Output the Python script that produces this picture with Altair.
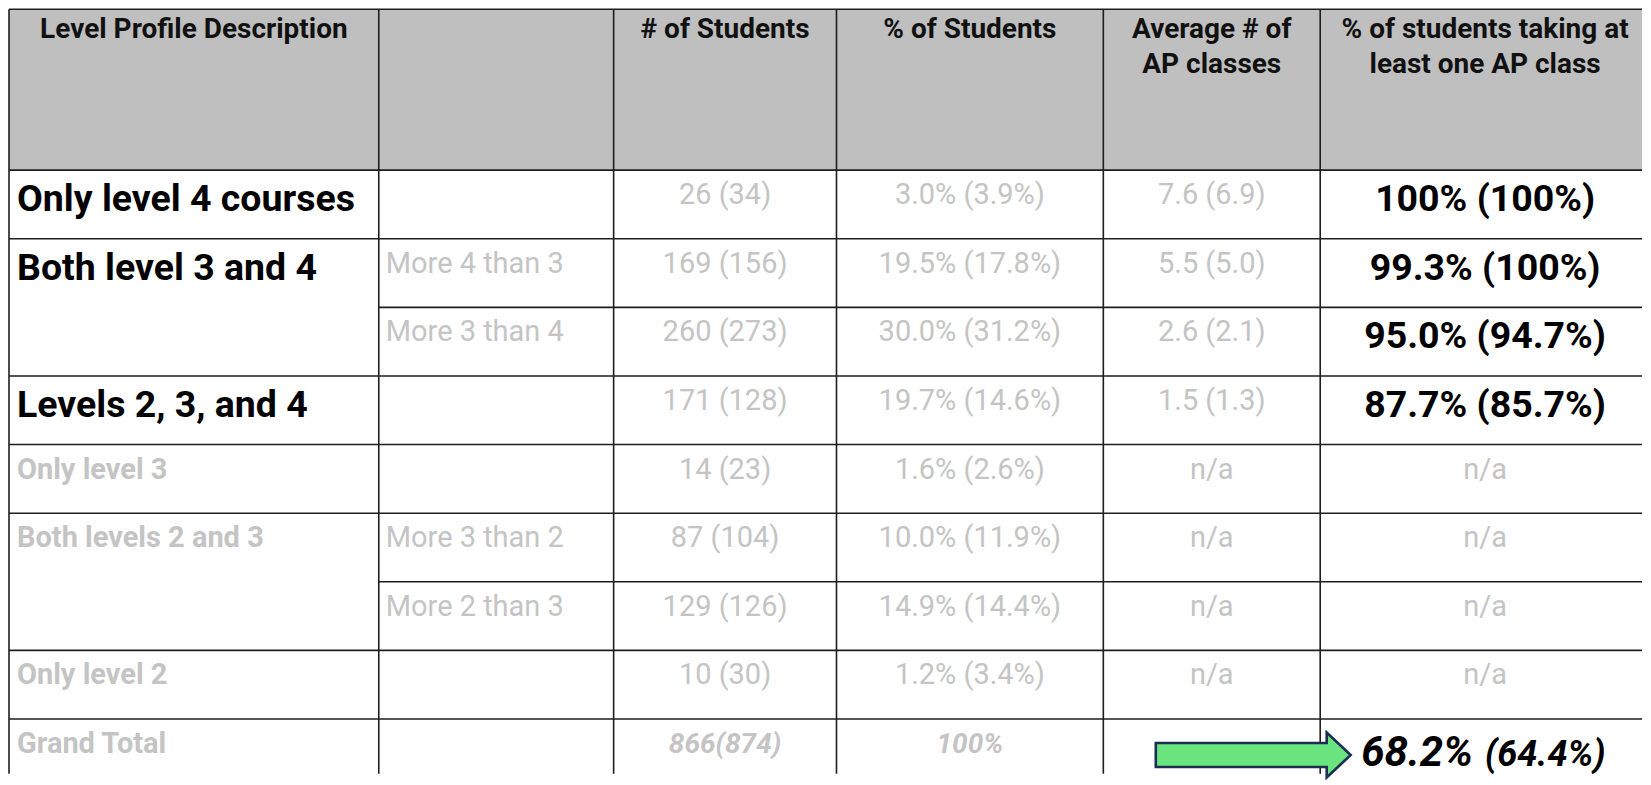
import altair as alt
import pandas as pd

# ---------------- data ----------------
header_labels = ["Level Profile Description", "", "# of Students", "% of Students",
                 "Average # of\nAP classes", "% of students taking at\nleast one AP class"]
profile_labels = ["Only level 4 courses", "Both level 3 and 4", "", "Levels 2, 3, and 4",
                  "Only level 3", "Both levels 2 and 3", "", "Only level 2", "Grand Total"]
split_labels = ["", "More 4 than 3", "More 3 than 4", "", "", "More 3 than 2",
                "More 2 than 3", "", ""]
students = [26, 169, 260, 171, 14, 87, 129, 10]
students_prev = [34, 156, 273, 128, 23, 104, 126, 30]
pct_students = [3.0, 19.5, 30.0, 19.7, 1.6, 10.0, 14.9, 1.2]
pct_students_prev = [3.9, 17.8, 31.2, 14.6, 2.6, 11.9, 14.4, 3.4]
avg_ap = [7.6, 5.5, 2.6, 1.5]
avg_ap_prev = [6.9, 5.0, 2.1, 1.3]
pct_ap = [100, 99.3, 95.0, 87.7]
pct_ap_prev = [100, 100, 94.7, 85.7]
total_students = 866
total_students_prev = 874
total_pct_students = 100
total_pct_ap = 68.2
total_pct_ap_prev = 64.4

# ---------------- layout ----------------
W, H = 1635, 766
COL_EDGES = [1, 371, 606, 829, 1096, 1313, 1643]
ROW_H = 68.65
HEADER_H = 161
PAD = 8
GRAY = "#c4c4c4"
LINE = "#1e1e1e"
HEADER_BG = "#bfbfbf"

centers = [(a + b) / 2 for a, b in zip(COL_EDGES[:-1], COL_EDGES[1:])]
y_top = -HEADER_H / ROW_H
y_min = y_top - 1 / ROW_H
y_max = y_min + H / ROW_H

xs = alt.Scale(domain=[0, W], range=[0, W], nice=False, zero=False)
ys = alt.Scale(domain=[y_min, y_max], reverse=True, nice=False, zero=False)


def pct(v):
    return f"{v:.0f}%" if v == 100 else f"{v:.1f}%"


cells = []


def add(row, x, text, style):
    cells.append(dict(y=row, x=x, text=text, style=style))


for j, h in enumerate(header_labels):
    if h:
        add(y_top, centers[j], h, "hdr")

n_hi = len(avg_ap)
for i, lab in enumerate(profile_labels):
    if lab:
        add(i, COL_EDGES[0] + PAD, lab, "lab_hi" if i < n_hi else "lab_lo")
for i, s in enumerate(split_labels):
    if s:
        add(i, COL_EDGES[1] + PAD - 1, s, "plain_left")
for i in range(len(students)):
    add(i, centers[2], f"{students[i]} ({students_prev[i]})", "plain")
    add(i, centers[3], f"{pct(pct_students[i])} ({pct(pct_students_prev[i])})", "plain")
    if i < n_hi:
        add(i, centers[4], f"{avg_ap[i]:.1f} ({avg_ap_prev[i]:.1f})", "plain")
        add(i, centers[5], f"{pct(pct_ap[i])} ({pct(pct_ap_prev[i])})", "ap_hi")
    else:
        add(i, centers[4], "n/a", "plain")
        add(i, centers[5], "n/a", "plain")

total_row = len(students)
add(total_row, centers[2], f"{total_students}({total_students_prev})", "total")
add(total_row, centers[3], f"{total_pct_students}%", "total")
add(total_row, COL_EDGES[5] + 41, f"{total_pct_ap}%", "big")
add(total_row, COL_EDGES[5] + 165, f"({total_pct_ap_prev}%)", "big2")

cells_df = pd.DataFrame(cells)

# grid lines
vlines = pd.DataFrame({"x": COL_EDGES[:-1], "y": [y_top] * 6, "y2": [y_max] * 6})
hl = [dict(y=y_top, x=COL_EDGES[0], x2=W)]
for i, lab in enumerate(profile_labels):
    hl.append(dict(y=i, x=COL_EDGES[0] if lab else COL_EDGES[1], x2=W))
hlines = pd.DataFrame(hl)

header_df = pd.DataFrame([dict(x=COL_EDGES[0], x2=W, y=y_top, y2=0)])

X = alt.X("x:Q", scale=xs, axis=None)
Y = alt.Y("y:Q", scale=ys, axis=None)

header_rect = alt.Chart(header_df).mark_rect(fill=HEADER_BG).encode(
    x=X, x2="x2:Q", y=Y, y2="y2:Q")
vrule = alt.Chart(vlines).mark_rule(color=LINE, strokeWidth=1.6).encode(
    x=X, y=Y, y2="y2:Q")
hrule = alt.Chart(hlines).mark_rule(color=LINE, strokeWidth=1.6).encode(
    x=X, x2="x2:Q", y=Y)

styles = {
    "hdr": dict(fontSize=28, fontWeight="bold", color="#111", align="center", dy=29,
                lineBreak="\n", lineHeight=35),
    "lab_hi": dict(fontSize=37.5, fontWeight="bold", color="#000", align="left", dy=41),
    "lab_lo": dict(fontSize=29, fontWeight="bold", color=GRAY, align="left", dy=34),
    "plain_left": dict(fontSize=29, fontWeight="normal", color=GRAY, align="left", dy=34),
    "plain": dict(fontSize=29, fontWeight="normal", color=GRAY, align="center", dy=34),
    "ap_hi": dict(fontSize=37.5, fontWeight="bold", color="#000", align="center", dy=41),
    "total": dict(fontSize=28, fontWeight="bold", fontStyle="italic", color=GRAY,
                  align="center", dy=34),
    "big": dict(fontSize=42, fontWeight="bold", fontStyle="italic", color="#000",
                align="left", dy=47),
    "big2": dict(fontSize=36, fontWeight="bold", fontStyle="italic", color="#000",
                 align="left", dy=47),
}

text_layers = []
for name, st in styles.items():
    text_layers.append(
        alt.Chart(cells_df).transform_filter(alt.datum.style == name)
        .mark_text(font="Roboto", baseline="alphabetic", **st)
        .encode(x=X, y=Y, text="text:N")
    )

arrow_path = ("M-1,-0.123 L0.754,-0.123 L0.754,-0.231 L1,0 L0.754,0.231 "
              "L0.754,0.123 L-1,0.123 Z")
arrow_df = pd.DataFrame([dict(x=COL_EDGES[5] - 67, y=total_row)])
arrow = alt.Chart(arrow_df).mark_point(
    shape=arrow_path, filled=True, fill="#69e47f", stroke="#1b2d52",
    strokeWidth=2.6, opacity=1, size=195 ** 2,
).encode(x=X, y=Y, yOffset=alt.value(36))

chart = alt.layer(header_rect, vrule, hrule, *text_layers, arrow).properties(
    width=W, height=H, padding=0, background="white"
).configure_view(stroke=None)

chart.save("out.html", embed_options={"renderer": "svg", "actions": False})
